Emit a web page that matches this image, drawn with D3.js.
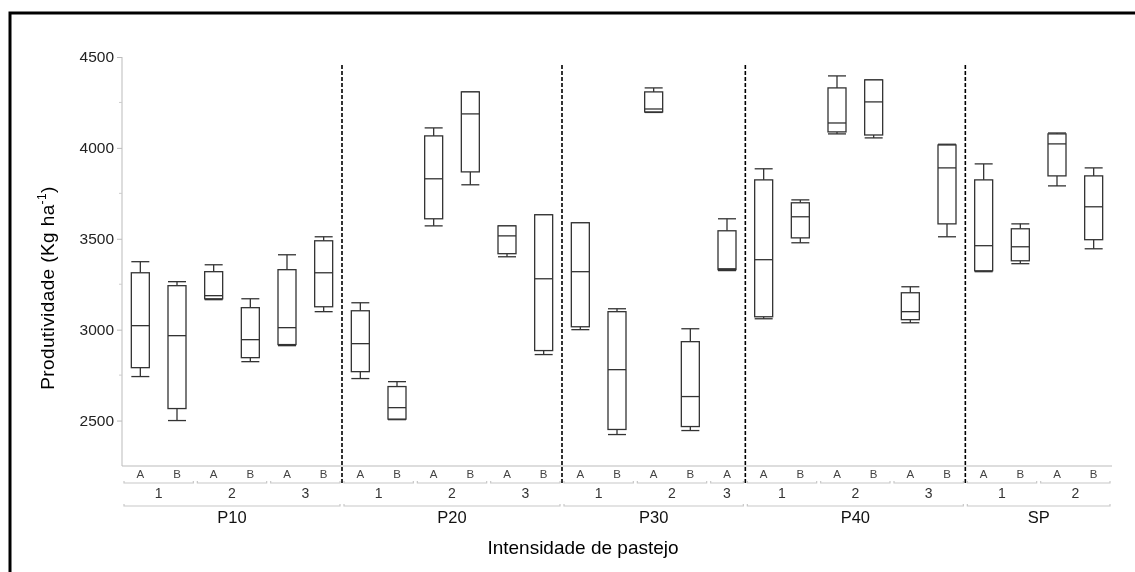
<!DOCTYPE html>
<html>
<head>
<meta charset="utf-8">
<script src="https://cdn.jsdelivr.net/npm/d3@7"></script>
<style>
  body { margin: 0; background: #fff; }
  svg { display: block; font-family: "Liberation Sans", Arial, sans-serif; will-change: transform; }
</style>
</head>
<body>
<svg width="1135" height="572"></svg>
<script>
// Categories (flat, one per box)
const grazing = ["P10","P10","P10","P10","P10","P10",
                 "P20","P20","P20","P20","P20","P20",
                 "P30","P30","P30","P30","P30",
                 "P40","P40","P40","P40","P40","P40",
                 "SP","SP","SP","SP"];
const block = ["1","1","2","2","3","3",
               "1","1","2","2","3","3",
               "1","1","2","2","3",
               "1","1","2","2","3","3",
               "1","1","2","2"];
const season = ["A","B","A","B","A","B",
                "A","B","A","B","A","B",
                "A","B","A","B","A",
                "A","B","A","B","A","B",
                "A","B","A","B"];

// Box statistics
const whiskLow = [2742,2500,3165,2824,2912,3099,
                  2731,2505,3571,3797,3401,2863,
                  3000,2423,4195,2445,3325,
                  3060,3478,4077,4055,3038,3511,
                  3319,3363,3791,3445];
const q1 = [2791,2566,3170,2846,2918,3126,
            2769,2508,3610,3868,3418,2885,
            3016,2451,4198,2467,3330,
            3071,3505,4088,4071,3055,3582,
            3324,3379,3846,3495];
const median = [3022,2967,3187,2945,3011,3313,
                2923,2571,3830,4187,3516,3280,
                3319,2780,4214,2632,3335,
                3385,3621,4137,4253,3099,3890,
                3462,3456,4022,3676];
const q3 = [3313,3242,3319,3121,3330,3489,
            3104,2687,4066,4308,3571,3632,
            3588,3099,4308,2934,3544,
            3824,3698,4330,4374,3203,4016,
            3824,3555,4077,3846];
const whiskHigh = [3374,3264,3357,3170,3412,3511,
                   3148,2714,4110,4308,3571,3632,
                   3588,3115,4330,3005,3610,
                   3885,3714,4396,4374,3236,4020,
                   3912,3582,4082,3890];

const yTicks = [2500, 3000, 3500, 4000, 4500];
const yMinor = [2750, 3250, 3750, 4250];

const svg = d3.select("svg");

// frame (left and top edges)
svg.append("path")
  .attr("d", "M10,572 L10,13 L1135,13")
  .attr("fill", "none").attr("stroke", "#000").attr("stroke-width", 3);

const x = d3.scaleBand().domain(d3.range(grazing.length)).range([122, 1112]).padding(0);
const y = d3.scaleLinear().domain([2250, 4500]).range([466, 57]);
const bw = 18;

// y axis
const yAxis = svg.append("g").attr("transform", "translate(122,0)")
  .call(d3.axisLeft(y).tickValues(yTicks).tickSize(5).tickPadding(3).tickFormat(d3.format("d")));
yAxis.select(".domain").attr("stroke", "#bbb").attr("d", "M0,57V466");
yAxis.selectAll(".tick line").attr("stroke", "#bbb");
yAxis.selectAll(".tick text").attr("font-size", 15.5).attr("fill", "#222")
  .attr("font-family", "'Liberation Sans', Arial, sans-serif");

svg.append("g").selectAll("line").data(yMinor).join("line")
  .attr("x1", 119).attr("x2", 122)
  .attr("y1", d => y(d)).attr("y2", d => y(d))
  .attr("stroke", "#ccc");

// bottom baseline
svg.append("line").attr("x1", 122).attr("x2", 1112).attr("y1", 466).attr("y2", 466)
  .attr("stroke", "#bbb");

// y title
svg.append("text")
  .attr("transform", "translate(54,288) rotate(-90)")
  .attr("text-anchor", "middle").attr("font-size", 19).attr("letter-spacing", 0.4).attr("fill", "#000")
  .call(t => {
    t.append("tspan").text("Produtividade (Kg ha");
    t.append("tspan").text("-1").attr("font-size", 12).attr("dy", -8);
    t.append("tspan").text(")").attr("dy", 8);
  });

// boxes
const idx = d3.range(grazing.length);
const boxes = svg.append("g").selectAll("g").data(idx).join("g")
  .attr("transform", i => `translate(${x(i) + x.bandwidth() / 2},0)`)
  .attr("stroke", "#333").attr("stroke-width", 1.3).attr("fill", "none");

boxes.append("line").attr("x1", 0).attr("x2", 0)
  .attr("y1", i => y(q3[i])).attr("y2", i => y(whiskHigh[i]));
boxes.append("line").attr("x1", 0).attr("x2", 0)
  .attr("y1", i => y(q1[i])).attr("y2", i => y(whiskLow[i]));
boxes.append("line").attr("x1", -bw / 2).attr("x2", bw / 2)
  .attr("y1", i => y(whiskHigh[i])).attr("y2", i => y(whiskHigh[i]));
boxes.append("line").attr("x1", -bw / 2).attr("x2", bw / 2)
  .attr("y1", i => y(whiskLow[i])).attr("y2", i => y(whiskLow[i]));
boxes.append("rect").attr("x", -bw / 2).attr("width", bw)
  .attr("y", i => y(q3[i])).attr("height", i => y(q1[i]) - y(q3[i]))
  .attr("fill", "#fff");
boxes.append("line").attr("x1", -bw / 2).attr("x2", bw / 2)
  .attr("y1", i => y(median[i])).attr("y2", i => y(median[i]));

// season labels
svg.append("g").selectAll("text").data(idx).join("text")
  .attr("x", i => x(i) + x.bandwidth() / 2).attr("y", 478)
  .attr("text-anchor", "middle").attr("font-size", 11.5).attr("fill", "#444")
  .text(i => season[i]);

// nested groupings
const subRuns = [];
const outerRuns = [];
idx.forEach(i => {
  const sk = grazing[i] + "|" + block[i];
  if (!subRuns.length || subRuns[subRuns.length - 1].key !== sk)
    subRuns.push({ key: sk, label: block[i], start: i, end: i });
  else subRuns[subRuns.length - 1].end = i;
  if (!outerRuns.length || outerRuns[outerRuns.length - 1].label !== grazing[i])
    outerRuns.push({ label: grazing[i], start: i, end: i });
  else outerRuns[outerRuns.length - 1].end = i;
});

function bracket(g, runs, yy) {
  g.selectAll("path").data(runs).join("path")
    .attr("d", r => {
      const x0 = x(r.start) + 2, x1 = x(r.end) + x.bandwidth() - 2;
      return `M${x0},${yy - 2}V${yy}H${x1}V${yy - 2}`;
    })
    .attr("fill", "none").attr("stroke", "#c8c8c8").attr("stroke-width", 1.2);
}
const subG = svg.append("g");
bracket(subG, subRuns, 483);
subG.selectAll("text").data(subRuns).join("text")
  .attr("x", r => (x(r.start) + x(r.end) + x.bandwidth()) / 2).attr("y", 498)
  .attr("text-anchor", "middle").attr("font-size", 14).attr("fill", "#333")
  .text(r => r.label);

const outG = svg.append("g");
bracket(outG, outerRuns, 506);
outG.selectAll("text").data(outerRuns).join("text")
  .attr("x", r => (x(r.start) + x(r.end) + x.bandwidth()) / 2).attr("y", 523)
  .attr("text-anchor", "middle").attr("font-size", 16.5).attr("fill", "#111")
  .text(r => r.label);

// dashed separators between grazing levels
const seps = outerRuns.slice(1).map(r => r.start);
svg.append("g").selectAll("line").data(seps).join("line")
  .attr("x1", i => x(i)).attr("x2", i => x(i))
  .attr("y1", 65).attr("y2", 483)
  .attr("stroke", "#000").attr("stroke-width", 1.6).attr("stroke-dasharray", "4,2");

// x title
svg.append("text").attr("x", 583).attr("y", 554)
  .attr("text-anchor", "middle").attr("font-size", 19).attr("fill", "#000")
  .text("Intensidade de pastejo");
</script>
</body>
</html>
